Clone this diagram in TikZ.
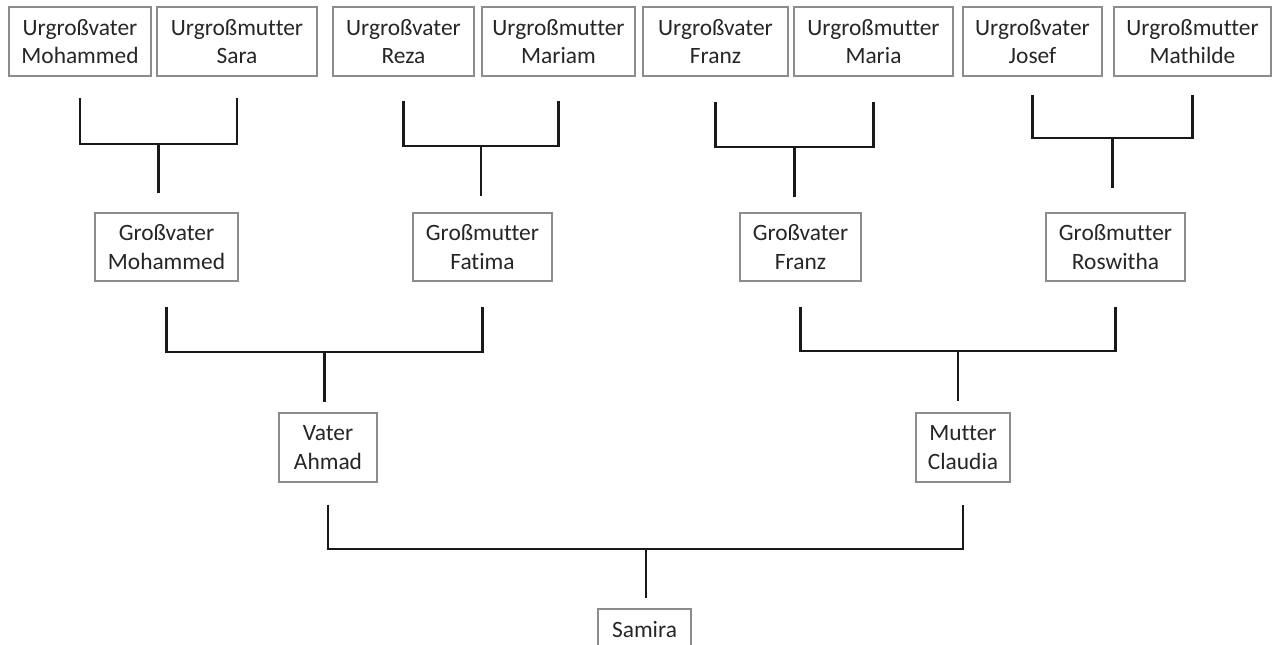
\documentclass[tikz,border=0pt]{standalone}
\usepackage{fontspec}
\setmainfont{Carlito}[Ligatures=NoCommon]
\usetikzlibrary{calc}
\definecolor{boxgray}{HTML}{8C8C8C}
\definecolor{textgray}{HTML}{262626}
\begin{document}
\begin{tikzpicture}[x=1pt,y=-1pt,
  person/.style={draw=boxgray, line width=1.4pt, fill=white, align=center,
    inner sep=0pt, font=\fontsize{23.4}{28.5}\selectfont, text=textgray},
  link/.style={line width=2.8pt, draw=black!90, line join=miter}]
\useasboundingbox (0,0) rectangle (1274,645);
\clip (0,0) rectangle (1274,645);
% great-grandparents
\node[person, minimum width=142pt, minimum height=69pt] (u1) at (80,41.5) {Urgroßvater\\Mohammed};
\node[person, minimum width=160pt, minimum height=69pt] (u2) at (237,41.5) {Urgroßmutter\\Sara};
\node[person, minimum width=141pt, minimum height=69pt] (u3) at (403.5,41.5) {Urgroßvater\\Reza};
\node[person, minimum width=153pt, minimum height=69pt] (u4) at (558.5,41.5) {Urgroßmutter\\Mariam};
\node[person, minimum width=145pt, minimum height=69pt] (u5) at (715.5,41.5) {Urgroßvater\\Franz};
\node[person, minimum width=159pt, minimum height=69pt] (u6) at (873.5,41.5) {Urgroßmutter\\Maria};
\node[person, minimum width=139pt, minimum height=69pt] (u7) at (1032.5,41.5) {Urgroßvater\\Josef};
\node[person, minimum width=157pt, minimum height=69pt] (u8) at (1192.5,41.5) {Urgroßmutter\\Mathilde};
% grandparents
\node[person, minimum width=143pt, minimum height=68pt] (g1) at (166.5,247) {Großvater\\Mohammed};
\node[person, minimum width=139pt, minimum height=68pt] (g2) at (482.5,247) {Großmutter\\Fatima};
\node[person, minimum width=121pt, minimum height=68pt] (g3) at (800.5,247) {Großvater\\Franz};
\node[person, minimum width=139pt, minimum height=68pt] (g4) at (1115.5,247) {Großmutter\\Roswitha};
% parents
\node[person, minimum width=98pt, minimum height=69pt] (v) at (328,447.5) {Vater\\Ahmad};
\node[person, minimum width=94pt, minimum height=69pt] (m) at (963,447.5) {Mutter\\Claudia};
% child
\node[person, minimum width=93pt, minimum height=42pt] (s) at (644.5,630) {Samira};
% junctions and stem ends
\coordinate (j1) at (158.5,144); \coordinate (e1) at (158.5,193);
\coordinate (j2) at (481,146);   \coordinate (e2) at (481,196);
\coordinate (j3) at (794.5,147); \coordinate (e3) at (794.5,197);
\coordinate (j4) at (1112.5,138);\coordinate (e4) at (1112.5,188);
\coordinate (j5) at (324.5,352); \coordinate (e5) at (324.5,402);
\coordinate (j6) at (958,351);   \coordinate (e6) at (958,401);
\coordinate (j7) at (646,549);   \coordinate (e7) at (646,598);
% connectors
\draw[link] ($(u1.south)+(0,21)$) |- (j1) -| ($(u2.south)+(0,21)$);
\draw[link] (j1) -- (e1);
\draw[link] ($(u3.south)+(0,24)$) |- (j2) -| ($(u4.south)+(0,24)$);
\draw[link] (j2) -- (e2);
\draw[link] ($(u5.south)+(0,25)$) |- (j3) -| ($(u6.south)+(0,25)$);
\draw[link] (j3) -- (e3);
\draw[link] ($(u7.south)+(0,18)$) |- (j4) -| ($(u8.south)+(0,18)$);
\draw[link] (j4) -- (e4);
\draw[link] ($(g1.south)+(0,25)$) |- (j5) -| ($(g2.south)+(0,25)$);
\draw[link] (j5) -- (e5);
\draw[link] ($(g3.south)+(0,25)$) |- (j6) -| ($(g4.south)+(0,25)$);
\draw[link] (j6) -- (e6);
\draw[link] ($(v.south)+(0,22)$) |- (j7) -| ($(m.south)+(0,22)$);
\draw[link] (j7) -- (e7);
\end{tikzpicture}
\end{document}
